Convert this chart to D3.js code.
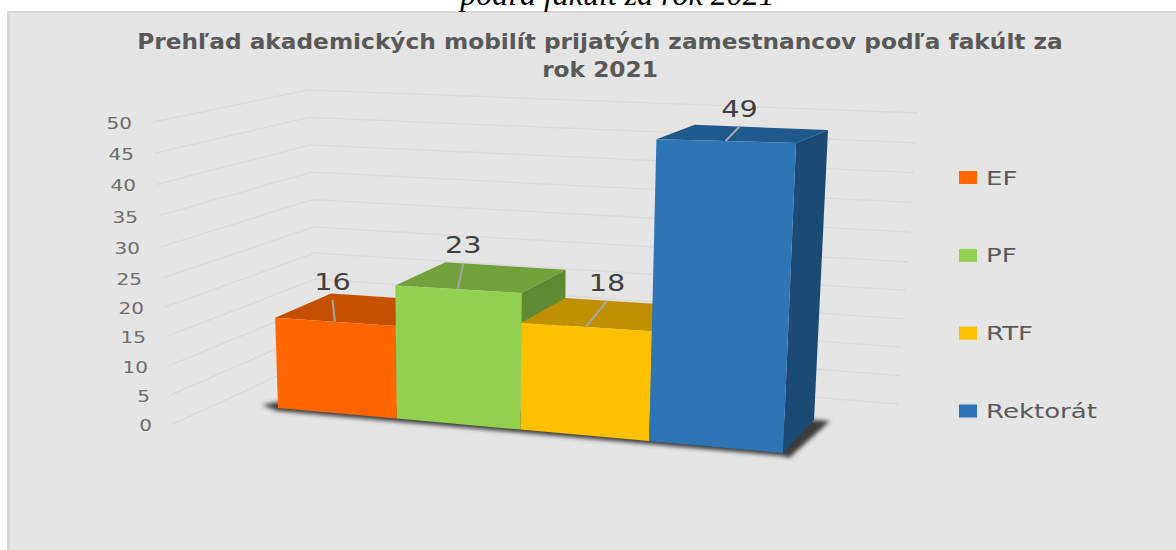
<!DOCTYPE html>
<html>
<head>
<meta charset="utf-8">
<script src="https://cdn.jsdelivr.net/npm/d3@7"></script>
<style>
  html, body { margin: 0; padding: 0; background: #fff; }
  svg { display: block; }
  text { font-family: "DejaVu Sans", sans-serif; }
</style>
</head>
<body>
<div id="chart"></div>
<script>
// Values
const categories = ['EF', 'PF', 'RTF', 'Rektorát'];
const values = [16, 23, 18, 49];
const yTicks = [0, 5, 10, 15, 20, 25, 30, 35, 40, 45, 50];
const titleLines = ['Prehľad akademických mobilít prijatých zamestnancov podľa fakúlt za', 'rok 2021'];
const captionText = 'podľa fakúlt za rok 2021';

const frontColors = ['#ff6600', '#92d050', '#ffc000', '#2e75b6'];
const topColors = ['#c55000', '#71a03c', '#c09000', '#20598c'];
const sideColors = ['#a04000', '#5e8a32', '#a07800', '#1b4a75'];

const width = 1176;
const height = 550;

const svg = d3.select('#chart').append('svg')
  .attr('width', width)
  .attr('height', height);

const defs = svg.append('defs');
defs.append('filter').attr('id', 'shadow')
  .attr('x', '-10%').attr('y', '-10%').attr('width', '120%').attr('height', '120%')
  .append('feGaussianBlur').attr('stdDeviation', 2);

// Chart area
svg.append('rect')
  .attr('x', 8).attr('y', 12)
  .attr('width', width).attr('height', height)
  .attr('fill', '#e5e5e5')
  .attr('stroke', '#d6d6d6')
  .attr('stroke-width', 2);
svg.append('rect')
  .attr('x', 7).attr('y', 12)
  .attr('width', 3).attr('height', height)
  .attr('fill', '#d6d6d6');

// Caption cut off by the top of the picture
svg.append('text')
  .attr('x', 617.5).attr('y', 4.5)
  .attr('text-anchor', 'middle')
  .style('font-family', '"Liberation Serif", serif')
  .style('font-style', 'italic')
  .style('font-size', '32px')
  .attr('fill', '#000')
  .text(captionText);

// Stretched text, the source picture is wider than it is tall
function stretched(parent, str, x, y, size, sx, anchor) {
  return parent.append('text')
    .attr('transform', 'translate(' + x + ',' + y + ') scale(' + sx + ',1)')
    .attr('text-anchor', anchor)
    .style('font-size', size + 'px')
    .text(str);
}

const titleG = svg.append('g').attr('fill', '#595959').style('font-weight', 'bold');
stretched(titleG, titleLines[0], 600, 49, 22, 1.058, 'middle');
stretched(titleG, titleLines[1], 600, 77, 22, 1.058, 'middle');

// Walls: one value scale per vertical wall edge, kinked at 25 because of perspective
const wallDomain = [0, 25, 50];
const wallFrontY = d3.scaleLinear().domain(wallDomain).range([424, 278, 122]);
const wallFrontX = d3.scaleLinear().domain([0, 50]).range([173, 153]);
const wallCornerY = d3.scaleLinear().domain(wallDomain).range([357, 227, 90]);
const wallCornerX = d3.scaleLinear().domain([0, 50]).range([319, 308]);
const wallRightY = d3.scaleLinear().domain(wallDomain).range([404, 262, 113]);
const wallRightX = d3.scaleLinear().domain([0, 50]).range([898, 918]);

const gridLine = d3.line();
svg.append('g').selectAll('path')
  .data(yTicks)
  .join('path')
  .attr('d', function (d) {
    return gridLine([
      [wallFrontX(d), wallFrontY(d)],
      [wallCornerX(d), wallCornerY(d)],
      [wallRightX(d), wallRightY(d)]
    ]);
  })
  .attr('fill', 'none')
  .attr('stroke', '#d9d9d9')
  .attr('stroke-width', 1.3);

// Tick labels
const tickG = svg.append('g').attr('fill', '#6e6e6e');
yTicks.forEach(function (d) {
  stretched(tickG, d, wallFrontX(d) - 21, wallFrontY(d) + 7, 16, 1.25, 'end');
});

// Box the bars live in: value, category position and depth are blended between its corners
const valueT = d3.scaleLinear().domain(wallDomain).range([0, 0.495, 1]);
const persp = -0.0754; // far columns are drawn narrower
const categoryT = function (u) {
  const n = u / categories.length;
  return n * (1 + persp) / (1 + persp * n);
};
const box = {
  frontBottomLeft: [278, 408], frontBottomRight: [783, 453],
  frontTopLeft: [269, 123], frontTopRight: [796.3, 136.5],
  backBottomLeft: [334, 381], backBottomRight: [814, 420],
  backTopLeft: [325, 105], backTopRight: [828.3, 124]
};
const mix = function (a, b, t) {
  return [a[0] + (b[0] - a[0]) * t, a[1] + (b[1] - a[1]) * t];
};
function project(u, v, w) {
  const t = categoryT(u);
  const s = valueT(v);
  const front = mix(mix(box.frontBottomLeft, box.frontBottomRight, t), mix(box.frontTopLeft, box.frontTopRight, t), s);
  const back = mix(mix(box.backBottomLeft, box.backBottomRight, t), mix(box.backTopLeft, box.backTopRight, t), s);
  return mix(front, back, w);
}
const poly = function (pts) {
  return pts.map(function (p) { return p.join(','); }).join(' ');
};

// Shadow under the bars
const fl = project(0, 0, 0);
const fr = project(4, 0, 0);
const br = project(4, 0, 1);
svg.append('polygon')
  .attr('points', poly([
    [fl[0] - 16, fl[1] - 3],
    [fl[0], fl[1] - 6],
    br,
    [br[0] + 16, br[1] + 1],
    [fr[0] + 6, fr[1] + 5],
    [fr[0], fr[1] + 3],
    [fl[0], fl[1] + 3]
  ]))
  .attr('fill', '#3a3a3a')
  .attr('filter', 'url(#shadow)');

// Bars, left to right so each one covers the side of the one before it
const bars = svg.append('g');
categories.forEach(function (c, i) {
  const v = values[i];
  bars.append('polygon')
    .attr('points', poly([project(i + 1, 0, 0), project(i + 1, 0, 1), project(i + 1, v, 1), project(i + 1, v, 0)]))
    .attr('fill', sideColors[i]);
  bars.append('polygon')
    .attr('points', poly([project(i, v, 0), project(i, v, 1), project(i + 1, v, 1), project(i + 1, v, 0)]))
    .attr('fill', topColors[i]);
  bars.append('polygon')
    .attr('points', poly([project(i, 0, 0), project(i + 1, 0, 0), project(i + 1, v, 0), project(i, v, 0)]))
    .attr('fill', frontColors[i]);
});

// Data labels with their leader lines; the leader ends at this spot on the top face
const leaderAlong = [0.12, 0.15, 0.34, 0.34];
const leaderDepth = [0.78, 1, 1, 1];
const labelG = svg.append('g');
categories.forEach(function (c, i) {
  const v = values[i];
  const a = project(i + 0.5, v, 0);
  const b = project(i + leaderAlong[i], v, leaderDepth[i]);
  labelG.append('line')
    .attr('x1', a[0]).attr('y1', a[1])
    .attr('x2', b[0]).attr('y2', b[1])
    .attr('stroke', '#a6a6a6')
    .attr('stroke-width', 2);
  stretched(labelG, v, b[0], b[1] - 10, 23, 1.25, 'middle').attr('fill', '#404040');
});

// Legend
const legendY = d3.scalePoint().domain(categories).range([177.5, 411]);
const legendG = svg.append('g');
categories.forEach(function (c, i) {
  legendG.append('rect')
    .attr('x', 959).attr('y', legendY(c) - 6.5)
    .attr('width', 18).attr('height', 13)
    .attr('fill', frontColors[i]);
  stretched(legendG, c, 986, legendY(c) + 7, 19, 1.37, 'start').attr('fill', '#595959');
});
</script>
</body>
</html>
